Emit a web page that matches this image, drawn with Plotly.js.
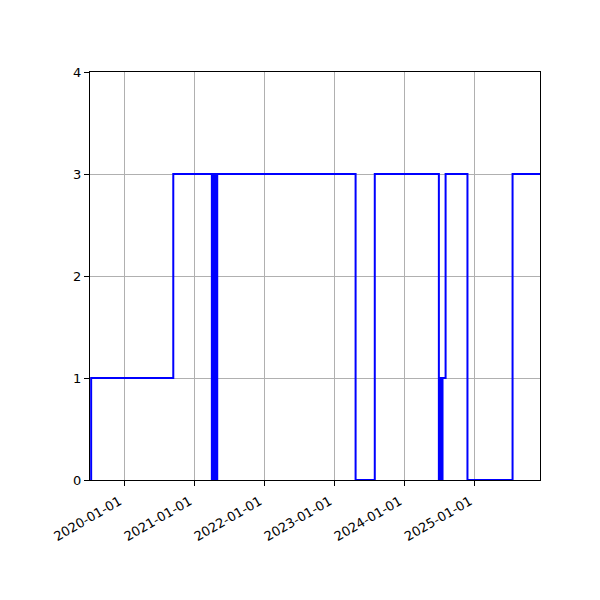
<!DOCTYPE html>
<html>
<head>
<meta charset="utf-8">
<script src="https://cdn.plot.ly/plotly-3.0.1.min.js"></script>
<style>html,body{margin:0;padding:0;background:#fff;}#chart{width:600px;height:600px;}</style>
</head>
<body>
<div id="chart"></div>
<script>
const dates = [
  "2019-07-09","2019-07-12","2020-09-12",
  "2021-04-01","2021-04-05","2021-04-09","2021-04-13","2021-04-17","2021-04-21","2021-04-25","2021-04-29",
  "2023-04-20","2023-07-29",
  "2024-06-27","2024-07-01","2024-07-05","2024-07-09","2024-07-13","2024-07-16","2024-08-01",
  "2024-11-23","2025-07-16","2025-12-06"
];
const values = [
  0,1,3,
  0,3,0,3,0,3,0,3,
  0,3,
  0,1,0,1,0,1,3,
  0,3,3
];
const xRange = ["2019-07-06","2025-12-06"];
const yTicks = [0,1,2,3,4];

const trace = {
  x: dates, y: values, type: "scatter", mode: "lines",
  line: {shape: "hv", color: "#0000ff", width: 2},
  hoverinfo: "none"
};
const axisCommon = {
  showline: true, linecolor: "#000", linewidth: 1, mirror: true,
  ticks: "outside", ticklen: 5, tickwidth: 1, tickcolor: "#000",
  showgrid: true, gridcolor: "#b0b0b0", gridwidth: 1, zeroline: false,
  tickfont: {family: "DejaVu Sans", size: 13, color: "#000"}
};
const layout = {
  width: 600, height: 600,
  margin: {l: 90, r: 60, t: 72, b: 120},
  paper_bgcolor: "#fff", plot_bgcolor: "#fff",
  showlegend: false,
  xaxis: Object.assign({}, axisCommon, {
    type: "date", range: xRange, tick0: "2020-01-01", dtick: "M12",
    tickformat: "%Y-%m-%d", tickangle: -30,
    ticklabelshift: -5, ticklabelstandoff: 3
  }),
  yaxis: Object.assign({}, axisCommon, {
    range: [0, 4], tickvals: yTicks, ticktext: yTicks.map(String)
  })
};
Plotly.newPlot("chart", [trace], layout, {staticPlot: true, displayModeBar: false});
</script>
</body>
</html>
